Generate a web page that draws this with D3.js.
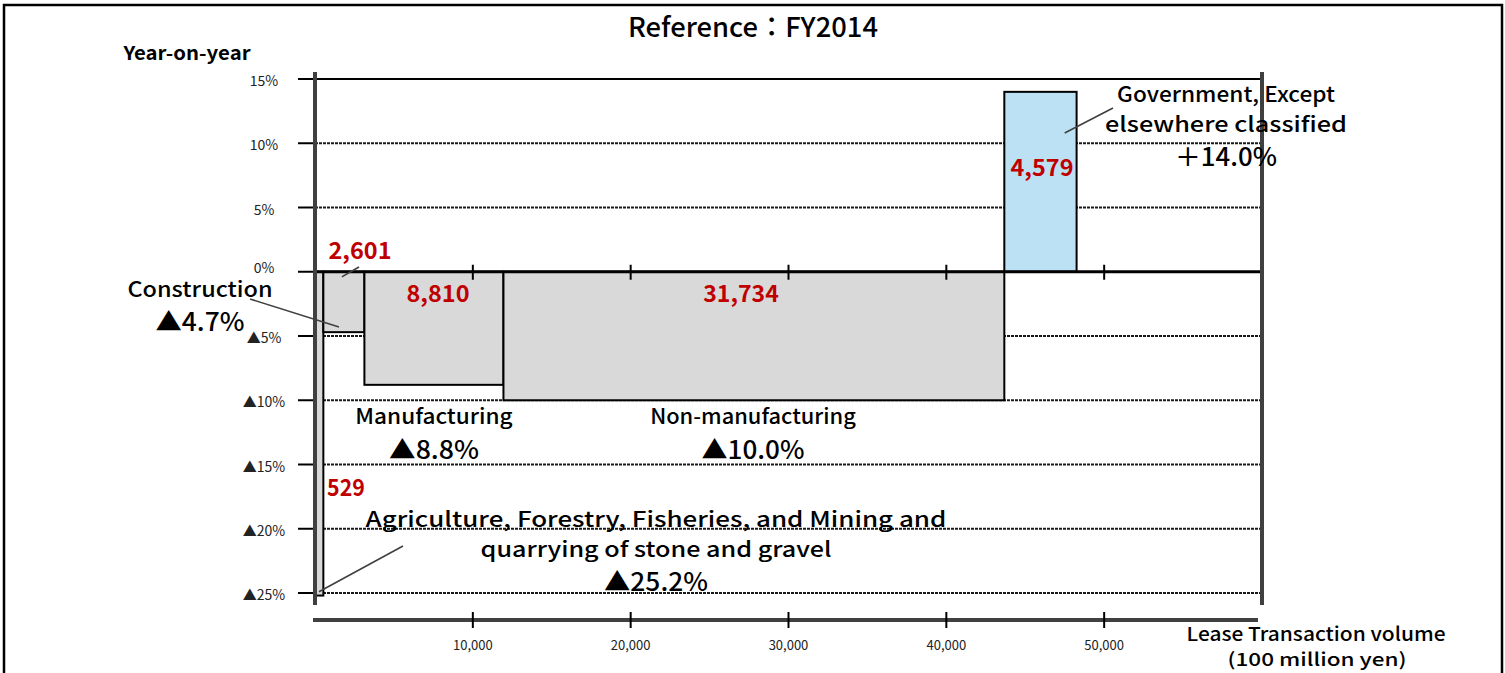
<!DOCTYPE html>
<html><head><meta charset="utf-8">
<script src="https://cdn.jsdelivr.net/npm/d3@7"></script>
<style>
html,body{margin:0;padding:0;background:#fff;}
svg{display:block;}
text{font-family:'Noto Sans CJK JP','Noto Sans',sans-serif;}
</style></head>
<body>
<svg id="chart" width="1505" height="673"></svg>
<script>
// ---- data ----
const categories = ["Agriculture, Forestry, Fisheries, and Mining and quarrying of stone and gravel",
  "Construction", "Manufacturing", "Non-manufacturing", "Government, Except elsewhere classified"];
const volumes = [529, 2601, 8810, 31734, 4579];
const yoy = [-25.2, -4.7, -8.8, -10.0, 14.0];
const volumeLabels = ["529", "2,601", "8,810", "31,734", "4,579"];
const yoyLabels = ["▲25.2%", "▲4.7%", "▲8.8%", "▲10.0%", "＋14.0%"];
const yTicks = [15, 10, 5, 0, -5, -10, -15, -20, -25];
const yTickLabels = ["15%", "10%", "5%", "0%", "▲5%", "▲10%", "▲15%", "▲20%", "▲25%"];
const xTicks = [10000, 20000, 30000, 40000, 50000];
const xTickLabels = ["10,000", "20,000", "30,000", "40,000", "50,000"];

// ---- layout (pixels) ----
const nameLayout = [
  {lines:["Agriculture, Forestry, Fisheries, and Mining and","quarrying of stone and gravel"], x:656, y:[527,557], pctY:591, pctW:104},
  {lines:["Construction"], x:200, y:[297], pctY:331, pctW:89},
  {lines:["Manufacturing"], x:434, y:[424], pctY:459, pctW:90},
  {lines:["Non-manufacturing"], x:753, y:[424], pctY:459, pctW:103},
  {lines:["Government, Except","elsewhere classified"], x:1226, y:[102,132], pctY:166, pctW:102}
];
const valueLayout = [{x:346,y:496},{x:360,y:259},{x:438,y:302},{x:741,y:302},{x:1042,y:176}];
// leader lines: from label side (pixels) to a point inside the bar (data units)
const leaders = [
  {from:[403,546], to:[250,-24.9]},
  {from:[250,299], to:[1520,-4.3]},
  null, null,
  {from:[1113,108], to:[47500,10.8]}
];
const valueLeaders = [null, {from:[359,267], to:[1700,-0.4]}, null, null, null];

const svg = d3.select("#chart");
const x = d3.scaleLinear().domain([0, 60000]).range([315, 1262]);
const y = d3.scaleLinear().domain([-25, 15]).range([593, 79]);

// outer frame
svg.append("rect").attr("x",4).attr("y",5).attr("width",1498).attr("height",700)
  .attr("fill","none").attr("stroke","#000").attr("stroke-width",2.5);

// title
svg.append("text").attr("x",753).attr("y",37).attr("text-anchor","middle")
  .attr("font-size",27).attr("font-weight",500).attr("textLength",250).attr("lengthAdjust","spacingAndGlyphs")
  .text("Reference：FY2014");
svg.append("text").attr("x",187).attr("y",60).attr("text-anchor","middle")
  .attr("font-size",19).attr("font-weight",700).attr("textLength",127).attr("lengthAdjust","spacingAndGlyphs")
  .text("Year-on-year");

// gridlines
svg.append("g").selectAll("line").data(yTicks.filter(d=>d!==0)).join("line")
  .attr("x1",x(0)).attr("x2",x(60000)).attr("y1",d=>y(d)).attr("y2",d=>y(d))
  .attr("stroke", d=>d===15?"#000":"#1a1a1a").attr("stroke-width",2)
  .attr("stroke-dasharray", d=>d===15?null:"3,1");
// y tick marks
svg.append("g").selectAll("line").data(yTicks).join("line")
  .attr("x1",298).attr("x2",x(0)).attr("y1",d=>y(d)).attr("y2",d=>y(d))
  .attr("stroke","#000").attr("stroke-width",2);
// y tick labels
svg.append("g").selectAll("text").data(yTicks).join("text")
  .attr("x",264).attr("y",(d,i)=>y(d)+ (d===0?1:7)).attr("text-anchor","middle")
  .attr("font-size",14).attr("fill","#222").text((d,i)=>yTickLabels[i]);

// bars
const starts = volumes.map((v,i)=>d3.sum(volumes.slice(0,i)));
svg.append("g").selectAll("rect").data(volumes).join("rect")
  .attr("x",(d,i)=>x(starts[i]))
  .attr("width",(d,i)=>x(starts[i]+d)-x(starts[i]))
  .attr("y",(d,i)=>y(Math.max(0,yoy[i])))
  .attr("height",(d,i)=>Math.abs(y(yoy[i])-y(0)))
  .attr("fill",(d,i)=>yoy[i]>=0?"#BDE1F4":"#D9D9D9")
  .attr("stroke","#000").attr("stroke-width",2);

// zero line
svg.append("line").attr("x1",x(0)).attr("x2",x(60000)).attr("y1",y(0)).attr("y2",y(0))
  .attr("stroke","#000").attr("stroke-width",3);
// ticks on zero line
svg.append("g").selectAll("line").data(xTicks).join("line")
  .attr("x1",d=>x(d)).attr("x2",d=>x(d)).attr("y1",y(0)-7).attr("y2",y(0)+8)
  .attr("stroke","#000").attr("stroke-width",2);

// vertical axes
[0,60000].forEach(v=>{
  svg.append("line").attr("x1",x(v)).attr("x2",x(v)).attr("y1",72).attr("y2",605)
    .attr("stroke","#404040").attr("stroke-width",4);
});
// x axis
svg.append("line").attr("x1",x(0)-2).attr("x2",x(60000)-4).attr("y1",620).attr("y2",620)
  .attr("stroke","#404040").attr("stroke-width",4);
svg.append("g").selectAll("line").data(xTicks).join("line")
  .attr("x1",d=>x(d)).attr("x2",d=>x(d)).attr("y1",612).attr("y2",628)
  .attr("stroke","#000").attr("stroke-width",2);
svg.append("g").selectAll("text").data(xTicks).join("text")
  .attr("x",d=>x(d)).attr("y",650).attr("text-anchor","middle")
  .attr("font-size",13).attr("fill","#222").text((d,i)=>xTickLabels[i]);
svg.append("text").attr("x",1316).attr("y",641).attr("text-anchor","middle")
  .attr("font-size",19).attr("font-weight",500).attr("textLength",259).attr("lengthAdjust","spacingAndGlyphs")
  .text("Lease Transaction volume");
svg.append("text").attr("x",1317).attr("y",666).attr("text-anchor","middle")
  .attr("font-size",18).attr("font-weight",500).attr("textLength",179).attr("lengthAdjust","spacingAndGlyphs")
  .text("(100 million yen)");

// leader lines
const lg = svg.append("g").attr("stroke","#404040").attr("stroke-width",1.6);
leaders.concat(valueLeaders).forEach(l=>{
  if(!l) return;
  lg.append("line").attr("x1",l.from[0]).attr("y1",l.from[1])
    .attr("x2",x(l.to[0])).attr("y2",y(l.to[1]));
});

// value labels
svg.append("g").selectAll("text").data(volumeLabels).join("text")
  .attr("x",(d,i)=>valueLayout[i].x).attr("y",(d,i)=>valueLayout[i].y)
  .attr("text-anchor","middle").attr("font-size",23).attr("font-weight",700)
  .attr("fill","#C00000")
  .attr("textLength",d=>d.length*12.6).attr("lengthAdjust","spacingAndGlyphs")
  .text(d=>d);

// category names & pct labels
nameLayout.forEach((L,i)=>{
  L.lines.forEach((t,j)=>{
    svg.append("text").attr("x",L.x).attr("y",L.y[j]).attr("text-anchor","middle")
      .attr("font-size",21).attr("font-weight",500).attr("textLength",t.length*12.1).attr("lengthAdjust","spacingAndGlyphs")
      .text(t);
  });
  svg.append("text").attr("x",L.x).attr("y",L.pctY).attr("text-anchor","middle")
    .attr("font-size",25).attr("font-weight",500).attr("textLength",L.pctW).attr("lengthAdjust","spacingAndGlyphs")
    .text(yoyLabels[i]);
});
</script>
</body></html>
